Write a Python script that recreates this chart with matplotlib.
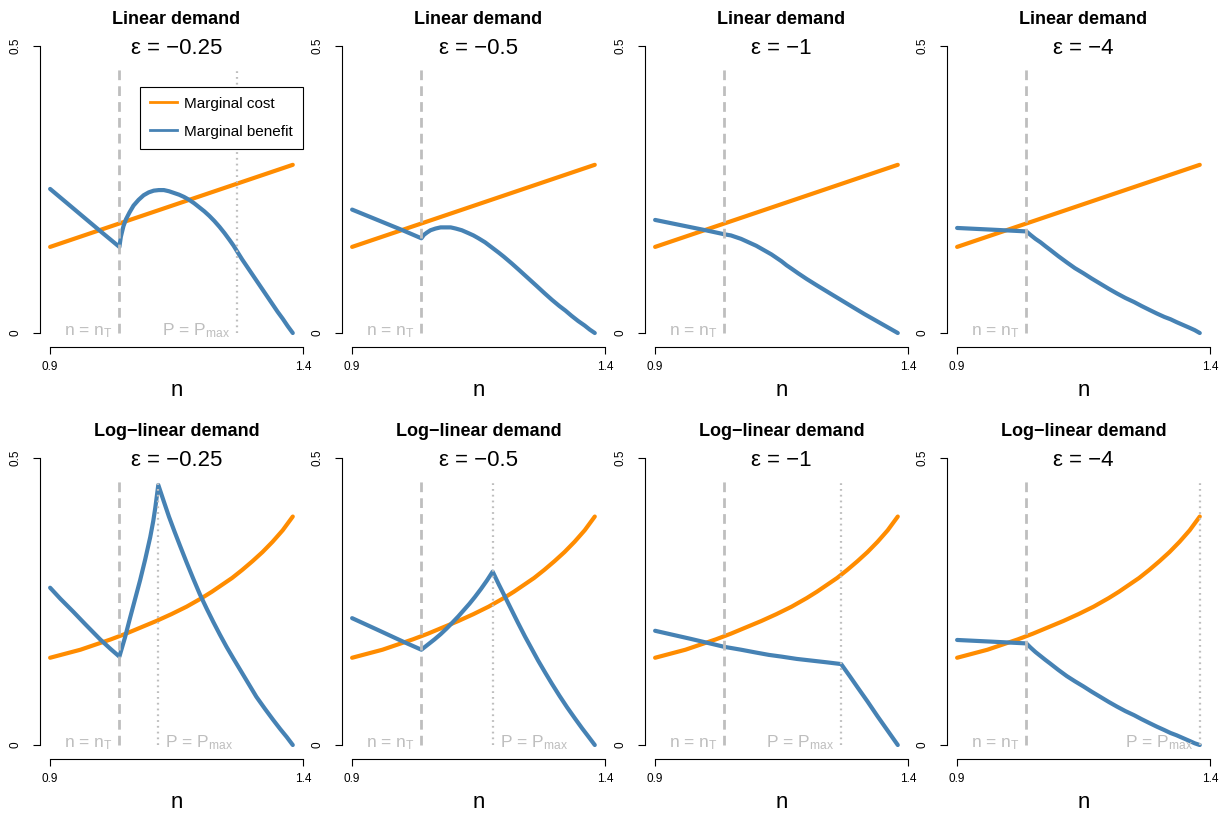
import numpy as np
import matplotlib.pyplot as plt
from matplotlib.lines import Line2D

plt.rcParams['font.family'] = ['Liberation Sans', 'DejaVu Sans']
plt.rcParams['mathtext.fontset'] = 'custom'
plt.rcParams['mathtext.rm'] = 'Liberation Sans'
plt.rcParams['mathtext.it'] = 'Liberation Sans:italic'
plt.rcParams['mathtext.bf'] = 'Liberation Sans:bold'
plt.rcParams['mathtext.default'] = 'regular'

# ---- values ----
demand_titles = ['Linear demand', 'Log\u2212linear demand']
eps_labels = ['\u22120.25', '\u22120.5', '\u22121', '\u22124']
n_T = 1.037
p_max_lin = [1.27, None, None, None]
p_max_log = [1.114, 1.178, 1.268, 1.38]

# marginal cost
mc_lin_n = [0.90, 1.38]
mc_lin = [0.150, 0.293]
mc_log_n = [0.90, 0.93, 0.96, 0.99, 1.02, 1.05, 1.08, 1.11, 1.14, 1.17, 1.20, 1.22, 1.24,
            1.26, 1.28, 1.30, 1.32, 1.34, 1.36, 1.38]
mc_log = [0.152, 0.159, 0.166, 0.175, 0.184, 0.194, 0.205, 0.216, 0.228, 0.241, 0.256, 0.267,
          0.279, 0.291, 0.305, 0.320, 0.336, 0.354, 0.374, 0.398]

# marginal benefit, linear demand
mb_lin1_n = [0.90, 0.95, 1.00, 1.037, 1.040, 1.045, 1.050, 1.057, 1.065, 1.075, 1.085, 1.095,
             1.105, 1.115, 1.125, 1.135, 1.145, 1.155, 1.165, 1.175, 1.185, 1.195, 1.205, 1.215,
             1.225, 1.235, 1.245, 1.255, 1.263, 1.27, 1.28, 1.29, 1.30, 1.31, 1.32, 1.33, 1.34,
             1.35, 1.36, 1.37, 1.38]
mb_lin1 = [0.251, 0.214, 0.177, 0.150, 0.168, 0.186, 0.198, 0.210, 0.222, 0.232, 0.240, 0.245,
           0.248, 0.249, 0.249, 0.247, 0.244, 0.241, 0.237, 0.232, 0.226, 0.219, 0.212, 0.204,
           0.195, 0.185, 0.174, 0.162, 0.152, 0.142, 0.128, 0.115, 0.102, 0.089, 0.076, 0.063,
           0.050, 0.037, 0.025, 0.012, 0.0]
mb_lin2_n = [0.90, 0.95, 1.00, 1.037, 1.042, 1.048, 1.055, 1.065, 1.075, 1.085, 1.095, 1.105,
             1.117, 1.13, 1.14, 1.15, 1.163, 1.175, 1.19, 1.20, 1.216, 1.23, 1.25, 1.265, 1.281,
             1.295, 1.31, 1.322, 1.334, 1.347, 1.36, 1.37, 1.38]
mb_lin2 = [0.215, 0.197, 0.179, 0.165, 0.171, 0.175, 0.179, 0.182, 0.184, 0.184, 0.184, 0.182,
           0.179, 0.174, 0.170, 0.165, 0.158, 0.150, 0.140, 0.133, 0.121, 0.110, 0.094, 0.082,
           0.069, 0.058, 0.047, 0.039, 0.030, 0.021, 0.013, 0.006, 0.0]
mb_lin3_n = [0.90, 0.95, 1.00, 1.037, 1.05, 1.06, 1.07, 1.08, 1.09, 1.10, 1.11, 1.12, 1.13,
             1.14, 1.15, 1.16, 1.17, 1.183, 1.20, 1.22, 1.248, 1.28, 1.314, 1.35, 1.38]
mb_lin3 = [0.197, 0.188, 0.179, 0.172, 0.170, 0.167, 0.164, 0.160, 0.156, 0.152, 0.147, 0.142,
           0.137, 0.131, 0.125, 0.118, 0.112, 0.104, 0.094, 0.083, 0.068, 0.051, 0.033, 0.015, 0.0]
mb_lin4_n = [0.90, 0.97, 1.037, 1.045, 1.055, 1.065, 1.075, 1.084, 1.10, 1.117, 1.133, 1.15,
             1.166, 1.183, 1.20, 1.216, 1.233, 1.25, 1.265, 1.281, 1.295, 1.31, 1.322, 1.334,
             1.347, 1.36, 1.37, 1.38]
mb_lin4 = [0.183, 0.180, 0.177, 0.171, 0.164, 0.158, 0.151, 0.145, 0.134, 0.123, 0.113, 0.104,
           0.095, 0.086, 0.077, 0.069, 0.061, 0.054, 0.047, 0.040, 0.034, 0.028, 0.024, 0.019,
           0.014, 0.009, 0.005, 0.0]

# marginal benefit, log-linear demand
mb_log1_n = [0.90, 0.92, 0.946, 0.97, 0.999, 1.02, 1.037, 1.048, 1.058, 1.068, 1.078, 1.088,
             1.098, 1.104, 1.108, 1.111, 1.114, 1.125, 1.135, 1.146, 1.157, 1.17, 1.183, 1.196,
             1.21, 1.223, 1.236, 1.249, 1.263, 1.278, 1.293, 1.308, 1.325, 1.341, 1.355, 1.368,
             1.38]
mb_log1 = [0.274, 0.255, 0.232, 0.210, 0.184, 0.167, 0.154, 0.187, 0.221, 0.254, 0.287, 0.323,
           0.362, 0.390, 0.413, 0.433, 0.453, 0.424, 0.398, 0.372, 0.347, 0.318, 0.290, 0.263,
           0.237, 0.214, 0.192, 0.171, 0.150, 0.128, 0.106, 0.084, 0.063, 0.044, 0.028, 0.014,
           0.0]
mb_log2_n = [0.90, 0.952, 1.001, 1.037, 1.05, 1.063, 1.075, 1.087, 1.097, 1.11, 1.12, 1.132,
             1.143, 1.155, 1.167, 1.178, 1.19, 1.202, 1.215, 1.228, 1.242, 1.255, 1.268, 1.282,
             1.295, 1.31, 1.325, 1.341, 1.355, 1.368, 1.38]
mb_log2 = [0.221, 0.200, 0.180, 0.166, 0.175, 0.184, 0.193, 0.203, 0.212, 0.224, 0.234, 0.246,
           0.258, 0.272, 0.287, 0.302, 0.280, 0.259, 0.236, 0.213, 0.189, 0.168, 0.147, 0.126,
           0.107, 0.086, 0.066, 0.046, 0.029, 0.014, 0.0]
mb_log3_n = [0.90, 0.97, 1.037, 1.07, 1.10, 1.125, 1.15, 1.18, 1.21, 1.24, 1.268, 1.285, 1.30,
             1.32, 1.34, 1.36, 1.38]
mb_log3 = [0.199, 0.185, 0.171, 0.166, 0.161, 0.157, 0.154, 0.150, 0.147, 0.144, 0.141, 0.120,
           0.101, 0.076, 0.050, 0.025, 0.0]
mb_log4_n = [0.90, 0.97, 1.037, 1.045, 1.055, 1.065, 1.075, 1.084, 1.10, 1.117, 1.133, 1.15,
             1.166, 1.183, 1.20, 1.216, 1.233, 1.25, 1.265, 1.281, 1.295, 1.31, 1.322, 1.334,
             1.347, 1.36, 1.37, 1.38]
mb_log4 = [0.183, 0.180, 0.177, 0.170, 0.162, 0.155, 0.148, 0.142, 0.131, 0.120, 0.111, 0.102,
           0.093, 0.084, 0.075, 0.067, 0.059, 0.052, 0.045, 0.038, 0.032, 0.026, 0.021, 0.017,
           0.012, 0.007, 0.003, 0.0]

mb_rows = [[(mb_lin1_n, mb_lin1), (mb_lin2_n, mb_lin2), (mb_lin3_n, mb_lin3), (mb_lin4_n, mb_lin4)],
           [(mb_log1_n, mb_log1), (mb_log2_n, mb_log2), (mb_log3_n, mb_log3), (mb_log4_n, mb_log4)]]
mc_rows = [(mc_lin_n, mc_lin), (mc_log_n, mc_log)]
pmax_rows = [p_max_lin, p_max_log]

orange = '#FF8C00'
blue = '#4682B4'
grey = '#BEBEBE'

W, H = 1224, 815
fig = plt.figure(figsize=(W / 100, H / 100), dpi=100)

lefts = [40, 342, 645, 947]
bottoms = [344.5, 756.5]
aw, ah = 273, 310

for r in range(2):
    for c in range(4):
        ax = fig.add_axes([lefts[c] / W, 1 - bottoms[r] / H, aw / W, ah / H])
        ax.set_xlim(0.88, 1.42)
        ax.set_ylim(-0.02, 0.52)

        # curves
        ax.plot(mc_rows[r][0], mc_rows[r][1], color=orange, lw=3, solid_capstyle='round',
                solid_joinstyle='round')
        mbn, mb = mb_rows[r][c]
        ax.plot(mbn, mb, color=blue, lw=3, solid_capstyle='round', solid_joinstyle='round')

        # guide lines on top of the curves
        ax.plot([n_T, n_T], [0, 0.46], color=grey, lw=2, ls=(0, (3.5, 2.2)),
                solid_capstyle='butt')
        ax.annotate('n = n$_T$', xy=(n_T, -0.004), xytext=(-5, 0),
                    textcoords='offset points', ha='right', va='baseline',
                    color=grey, fontsize=12.5)
        pm = pmax_rows[r][c]
        if pm is not None:
            ax.plot([pm, pm], [0, 0.46], color=grey, lw=1.6, ls=(0, (0.8, 1.8)))
            if pm > 1.25:
                ax.annotate('P = P$_{max}$', xy=(pm, -0.004), xytext=(-5, 0),
                            textcoords='offset points', ha='right', va='baseline',
                            color=grey, fontsize=12.5)
            else:
                ax.annotate('P = P$_{max}$', xy=(pm, -0.004), xytext=(5, 0),
                            textcoords='offset points', ha='left', va='baseline',
                            color=grey, fontsize=12.5)

        # axes in R style
        for s in ['top', 'right']:
            ax.spines[s].set_visible(False)
        ax.spines['left'].set_bounds(0, 0.5)
        ax.spines['bottom'].set_bounds(0.9, 1.4)
        ax.spines['bottom'].set_position(('outward', 1.8))
        ax.spines['left'].set_linewidth(0.8)
        ax.spines['bottom'].set_linewidth(0.8)
        ax.set_xticks([0.9, 1.4])
        ax.set_xticklabels(['0.9', '1.4'], fontsize=8.5)
        ax.set_yticks([0, 0.5])
        ax.set_yticklabels(['0', '0.5'], fontsize=8.5, rotation=90, va='center')
        ax.tick_params(axis='x', length=5, width=0.8, pad=5)
        ax.tick_params(axis='y', length=5, width=0.8, pad=8)
        ax.patch.set_visible(False)

        ax.text(0.5, 1.047, demand_titles[r], transform=ax.transAxes, ha='center',
                va='center', fontsize=13, fontweight='bold')
        ax.text(0.5, 0.956, '\u03b5 = ' + eps_labels[c], transform=ax.transAxes,
                ha='center', va='center', fontsize=16)
        ax.text(0.5, -0.15, 'n', transform=ax.transAxes, ha='center', va='center',
                fontsize=16)

        if r == 0 and c == 0:
            handles = [Line2D([], [], color=orange, lw=2),
                       Line2D([], [], color=blue, lw=2)]
            leg = ax.legend(handles, ['Marginal cost', 'Marginal benefit'],
                            loc='upper right', bbox_to_anchor=(0.963, 0.831),
                            borderaxespad=0, fancybox=False, framealpha=1,
                            edgecolor='black', fontsize=11, handlelength=1.8,
                            handletextpad=0.45, labelspacing=0.9, borderpad=0.65)
            leg.get_frame().set_linewidth(0.8)

plt.savefig('out.png', dpi=100)
